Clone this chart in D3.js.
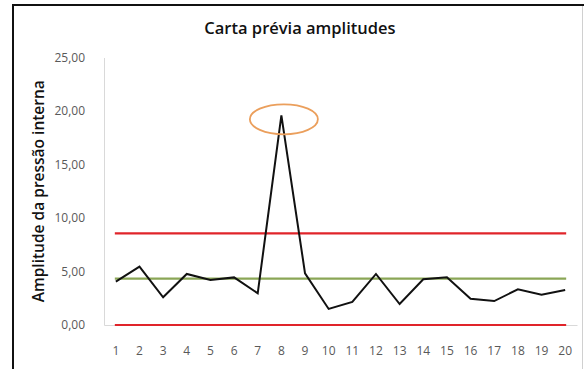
<!DOCTYPE html>
<html>
<head>
<meta charset="utf-8">
<script src="https://cdn.jsdelivr.net/npm/d3@7"></script>
<style>
  html, body { margin: 0; padding: 0; background: #fff; }
  svg { display: block; }
</style>
</head>
<body>
<svg id="chart" width="584" height="369"></svg>
<script>
// Amostras (subgrupos) e amplitudes observadas
const samples = [1, 2, 3, 4, 5, 6, 7, 8, 9, 10, 11, 12, 13, 14, 15, 16, 17, 18, 19, 20];
const amplitudes = [4.05, 5.45, 2.59, 4.77, 4.20, 4.45, 2.96, 19.6, 4.83, 1.50,
                    2.15, 4.77, 1.96, 4.27, 4.46, 2.46, 2.24, 3.33, 2.83, 3.27];
// Limites da carta: LSC, linha central, LIC
const ucl = 8.57;
const centerLine = 4.33;
const lcl = 0;
const yTicks = [0, 5, 10, 15, 20, 25];
// Ponto fora de controlo assinalado
const flaggedSample = 8;

const svg = d3.select("#chart");
const W = 584, H = 369;
const plot = { left: 104, right: 577, top: 57.5, bottom: 325 };
const font = "'Open Sans', sans-serif";

// Moldura do gráfico
svg.append("line").attr("x1", 12).attr("x2", W).attr("y1", 5).attr("y2", 5)
  .attr("stroke", "#111").attr("stroke-width", 2);
svg.append("line").attr("x1", 13).attr("x2", 13).attr("y1", 4).attr("y2", H)
  .attr("stroke", "#111").attr("stroke-width", 2);
svg.append("line").attr("x1", 582.5).attr("x2", 582.5).attr("y1", 6).attr("y2", H)
  .attr("stroke", "#d0d0d0").attr("stroke-width", 1);

const x = d3.scaleBand().domain(samples).range([plot.left, plot.right]);
const xc = d => x(d) + x.bandwidth() / 2;
const y = d3.scaleLinear().domain([0, 25]).range([plot.bottom, plot.top]);

const fmt = v => d3.format(".2f")(v).replace(".", ",");

// Eixo Y
const yAxis = svg.append("g")
  .attr("transform", `translate(${plot.left},0)`)
  .call(d3.axisLeft(y).tickValues(yTicks).tickFormat(fmt).tickSize(0).tickPadding(19));
yAxis.select(".domain").attr("stroke", "#d9d9d9").attr("stroke-width", 1);
yAxis.selectAll("text").style("fill", "#595959")
  .style("font-family", font).style("font-size", "12px");

// Eixo X
const xAxis = svg.append("g")
  .attr("transform", `translate(0,${plot.bottom})`)
  .call(d3.axisBottom(x).tickSize(0).tickPadding(21));
xAxis.select(".domain").attr("stroke", "#d9d9d9").attr("stroke-width", 1);
xAxis.selectAll("text").style("fill", "#595959")
  .style("font-family", font).style("font-size", "12px");

// Limites de controlo e linha central
const first = samples[0], last = samples[samples.length - 1];
[[ucl, "#e0242a"], [lcl, "#e0242a"], [centerLine, "#8aa656"]].forEach(([v, c]) => {
  svg.append("line")
    .attr("x1", xc(first) - 1).attr("x2", xc(last) + 1)
    .attr("y1", y(v)).attr("y2", y(v))
    .attr("stroke", c).attr("stroke-width", 2.2);
});

// Série das amplitudes
svg.append("path")
  .datum(samples.map((s, i) => [s, amplitudes[i]]))
  .attr("fill", "none").attr("stroke", "#111").attr("stroke-width", 2)
  .attr("stroke-linejoin", "miter")
  .attr("d", d3.line().x(d => xc(d[0])).y(d => y(d[1])));

// Elipse a destacar o ponto fora de controlo
const fi = samples.indexOf(flaggedSample);
svg.append("ellipse")
  .attr("cx", xc(flaggedSample) + 2.5).attr("cy", y(amplitudes[fi]) + 4)
  .attr("rx", 34).attr("ry", 15)
  .attr("fill", "none").attr("stroke", "#eb9f5c").attr("stroke-width", 1.8);

// Título
svg.append("text").attr("x", 300).attr("y", 34).attr("text-anchor", "middle")
  .style("font-family", font).style("font-weight", "600")
  .style("font-size", "16.5px").style("fill", "#111")
  .text("Carta prévia amplitudes");

// Título do eixo Y
svg.append("text")
  .attr("transform", `translate(44,${(plot.top + plot.bottom) / 2}) rotate(-90)`)
  .attr("text-anchor", "middle")
  .style("font-family", font).style("font-weight", "600")
  .style("font-size", "15.5px").style("fill", "#111")
  .text("Amplitude da pressão interna");
</script>
</body>
</html>
